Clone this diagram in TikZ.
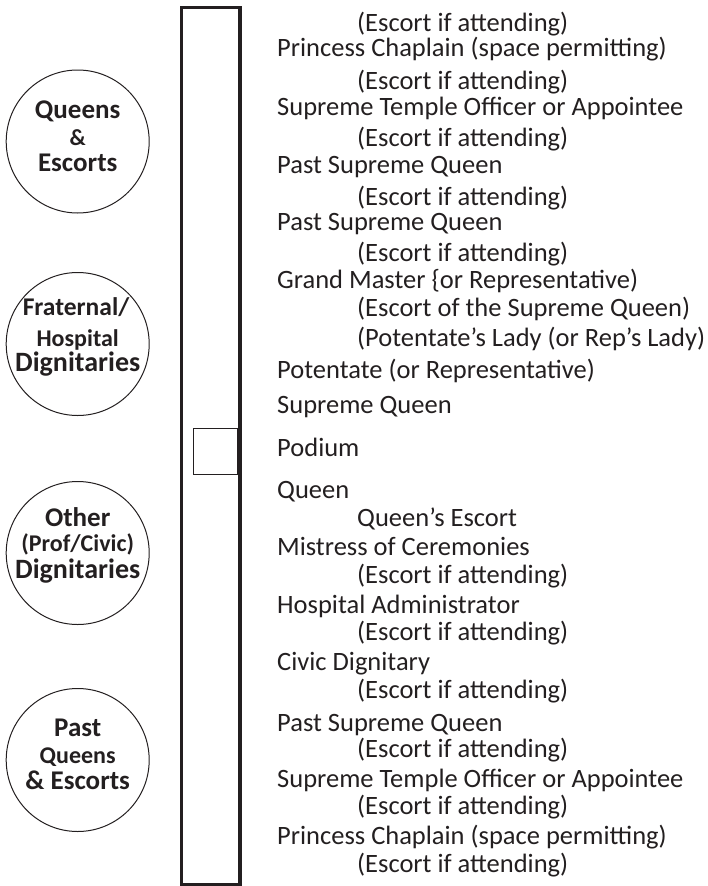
\documentclass[tikz,border=0pt]{standalone}
\usepackage{fontspec}
\setmainfont{Carlito}
\definecolor{ink}{RGB}{35,31,32}
\begin{document}
\begin{tikzpicture}[x=1pt,y=-1pt,
  lbl/.style={anchor=base west,inner sep=0pt,font=\fontsize{26.5}{30}\selectfont,text=ink},
  ctx/.style={anchor=base,inner sep=0pt,font=\bfseries\fontsize{27}{30}\selectfont,text=ink},
  ctxs/.style={anchor=base,inner sep=0pt,font=\bfseries\fontsize{24}{28}\selectfont,text=ink},
  grp/.style={draw=ink,line width=1pt,circle,minimum size=143pt,inner sep=0pt}]
\useasboundingbox (0,0) rectangle (708,886);
% aisle / table
\draw[ink,line width=3.3pt] (181.5,7.5) rectangle (240,884.5);
\node[draw=ink,line width=1pt,minimum width=44pt,minimum height=46pt,inner sep=0pt,anchor=north east] (podbox) at (238.4,428) {};
% circles
\node[grp] (c1) at (77.7,141.5) {};
\node[grp] (c2) at (77.7,344) {};
\node[grp] (c3) at (77.7,553) {};
\node[grp] (c4) at (77.7,760) {};
\node[ctx] (c1a) at (77.7,118.3) {Queens};
\node[ctx,font=\bfseries\fontsize{23}{26}\selectfont] (c1b) at (77.7,145) {\&};
\node[ctx] (c1c) at (77.7,171.7) {Escorts};
\node[ctx,font=\bfseries\fontsize{25.5}{28}\selectfont] (c2a) at (76,315.5) {Fraternal/};
\node[ctxs] (c2b) at (77.7,346) {Hospital};
\node[ctx,font=\bfseries\fontsize{28}{30}\selectfont] (c2c) at (77.7,371.5) {Dignitaries};
\node[ctx] (c3a) at (77.7,526.7) {Other};
\node[ctxs] (c3b) at (77.7,551.7) {(Prof/Civic)};
\node[ctx,font=\bfseries\fontsize{28}{30}\selectfont] (c3c) at (77.7,578.3) {Dignitaries};
\node[ctx] (c4a) at (77.7,736.7) {Past};
\node[ctxs] (c4b) at (77.7,763.3) {Queens};
\node[ctx] (c4c) at (77.7,789.3) {\& Escorts};
% order list
\def\xa{277}\def\xb{357}
\node[lbl] (t01) at (\xb,31.7) {(Escort if attending)};
\node[lbl] (t02) at (\xa,56.7) {Princess Chaplain (space permitting)};
\node[lbl] (t03) at (\xb,89.3) {(Escort if attending)};
\node[lbl] (t04) at (\xa,115) {Supreme Temple Officer or Appointee};
\node[lbl] (t05) at (\xb,146.7) {(Escort if attending)};
\node[lbl] (t06) at (\xa,173.3) {Past Supreme Queen};
\node[lbl] (t07) at (\xb,205) {(Escort if attending)};
\node[lbl] (t08) at (\xa,230) {Past Supreme Queen};
\node[lbl] (t09) at (\xb,261.7) {(Escort if attending)};
\node[lbl] (t10) at (\xa,288.3) {Grand Master \{or Representative)};
\node[lbl] (t11) at (\xb,316.7) {(Escort of the Supreme Queen)};
\node[lbl] (t12) at (\xb,346.7) {(Potentate’s Lady (or Rep’s Lady)};
\node[lbl] (t13) at (\xa,378.3) {Potentate (or Representative)};
\node[lbl] (t14) at (\xa,413.3) {Supreme Queen};
\node[lbl] (t15) at (\xa,456.7) {Podium};
\node[lbl] (t16) at (\xa,498.3) {Queen};
\node[lbl] (t17) at (\xb,526.7) {Queen’s Escort};
\node[lbl] (t18) at (\xa,555) {Mistress of Ceremonies};
\node[lbl] (t19) at (\xb,583.3) {(Escort if attending)};
\node[lbl] (t20) at (\xa,613.3) {Hospital Administrator};
\node[lbl] (t21) at (\xb,640) {(Escort if attending)};
\node[lbl] (t22) at (\xa,670) {Civic Dignitary};
\node[lbl] (t23) at (\xb,698.3) {(Escort if attending)};
\node[lbl] (t24) at (\xa,731) {Past Supreme Queen};
\node[lbl] (t25) at (\xb,757.7) {(Escort if attending)};
\node[lbl] (t26) at (\xa,787.7) {Supreme Temple Officer or Appointee};
\node[lbl] (t27) at (\xb,814.3) {(Escort if attending)};
\node[lbl] (t28) at (\xa,844.3) {Princess Chaplain (space permitting)};
\node[lbl] (t29) at (\xb,872.7) {(Escort if attending)};
\end{tikzpicture}
\end{document}
